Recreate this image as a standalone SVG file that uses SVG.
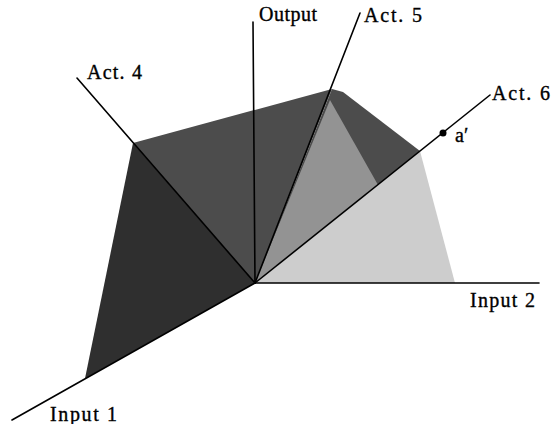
<svg xmlns="http://www.w3.org/2000/svg" width="552" height="424" viewBox="0 0 552 424">
<style>
.ax{stroke:#000;stroke-width:1.6;fill:none;stroke-linecap:round}
.lbl{font-family:"Liberation Serif","Times New Roman",serif;font-size:20px;fill:#000;stroke:#000;stroke-width:0.35}
</style>
<rect width="552" height="424" fill="#fff"/>
<g id="faces">
<polygon id="face-left" points="133,143 85,378.5 255,283" fill="#2f2f2f"/>
<polygon id="face-top" points="133,143 332,89 255,283" fill="#4c4c4c"/>
<polygon id="face-right-dark" points="332,89 343,92 420,151 378,185 255,283" fill="#4c4c4c"/>
<polygon id="face-right-mid" points="330,100 378,185 255,283" fill="#939393"/>
<polygon id="face-floor" points="255,283 420,151 455,283" fill="#cdcdcd"/>
</g>
<g id="connectors">
<line id="input1" class="ax" x1="12" y1="420" x2="255" y2="283" stroke-width="2"/>
<line id="input2" class="ax" x1="255" y1="283" x2="539" y2="283" stroke-width="2"/>
<line id="output" class="ax" x1="253" y1="22" x2="255" y2="283"/>
<line id="act4" class="ax" x1="77" y1="78" x2="255" y2="283"/>
<line id="act5" class="ax" x1="360" y1="13" x2="255" y2="283"/>
<line id="act6" class="ax" x1="255" y1="283" x2="490" y2="95"/>
</g>
<g id="point-a">
<circle cx="443" cy="133" r="3.5" fill="#000"/>
<text class="lbl" x="455" y="142">a′</text>
</g>
<g id="labels">
<text id="t-act4" class="lbl" x="87" y="79" textLength="55">Act. 4</text>
<text id="t-output" class="lbl" x="259" y="21" textLength="58">Output</text>
<text id="t-act5" class="lbl" x="364" y="22" textLength="58">Act. 5</text>
<text id="t-act6" class="lbl" x="492" y="100" textLength="58">Act. 6</text>
<text id="t-input2" class="lbl" x="470" y="307" textLength="65">Input 2</text>
<text id="t-input1" class="lbl" x="50" y="421" textLength="67">Input 1</text>
</g>
</svg>
